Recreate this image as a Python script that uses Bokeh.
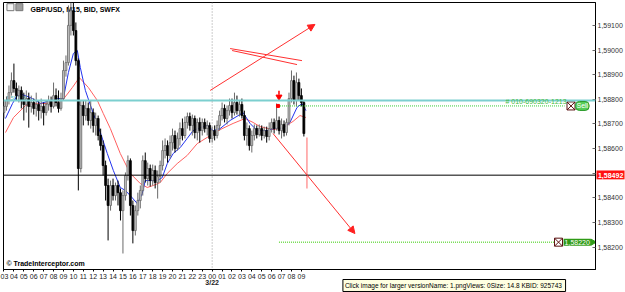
from bokeh.plotting import figure
from bokeh.models import (Span, Label, Arrow, NormalHead, FixedTicker, ColumnDataSource,
                          Range1d, CustomJSTickFormatter)
from bokeh.embed import file_html
from bokeh.resources import INLINE
from bokeh.core.properties import value
import math

# ---------------- data (GBP/USD M15) ----------------
bar_hours = 0.25  # M15 candles, x axis in hours since 03:00 on 3/21

opens = [1.58746, 1.58771, 1.58795, 1.58827, 1.58876, 1.58844, 1.58815, 1.58836, 1.58795, 1.58779,
         1.58803, 1.58771, 1.58787, 1.58763, 1.58779, 1.58754, 1.58771, 1.58746, 1.58779, 1.58795,
         1.58771, 1.58815, 1.58787, 1.58763, 1.58803, 1.58917, 1.58949, 1.59100, 1.59160, 1.59079,
         1.58957, 1.58519, 1.58775, 1.58734, 1.58763, 1.58714, 1.58746, 1.58694, 1.58722, 1.58653,
         1.58612, 1.58531, 1.58450, 1.58369, 1.58450, 1.58409, 1.58450, 1.58421, 1.58348, 1.58409,
         1.58491, 1.58551, 1.58369, 1.58267, 1.58348, 1.58389, 1.58430, 1.58551, 1.58478, 1.58519,
         1.58470, 1.58511, 1.58462, 1.58486, 1.58531, 1.58592, 1.58612, 1.58572, 1.58624, 1.58653,
         1.58600, 1.58641, 1.58681, 1.58653, 1.58706, 1.58730, 1.58694, 1.58722, 1.58665, 1.58706,
         1.58673, 1.58706, 1.58681, 1.58694, 1.58641, 1.58673, 1.58653, 1.58694, 1.58734, 1.58763,
         1.58722, 1.58754, 1.58775, 1.58746, 1.58787, 1.58754, 1.58779, 1.58734, 1.58653, 1.58681,
         1.58612, 1.58653, 1.58681, 1.58657, 1.58681, 1.58653, 1.58673, 1.58649, 1.58681, 1.58706,
         1.58681, 1.58714, 1.58673, 1.58698, 1.58665, 1.58706, 1.58803, 1.58876, 1.58795, 1.58868,
         1.58815, 1.58787]
highs = [1.58795, 1.58811, 1.58856, 1.58909, 1.58945, 1.58868, 1.58856, 1.58852, 1.58827, 1.58836,
         1.58827, 1.58815, 1.58803, 1.58827, 1.58795, 1.58803, 1.58787, 1.58795, 1.58815, 1.58811,
         1.58868, 1.58844, 1.58836, 1.58827, 1.58957, 1.58978, 1.59181, 1.59193, 1.59193, 1.59112,
         1.58966, 1.58795, 1.58795, 1.58795, 1.58787, 1.58795, 1.58763, 1.58746, 1.58734, 1.58681,
         1.58633, 1.58551, 1.58478, 1.58470, 1.58478, 1.58462, 1.58470, 1.58438, 1.58430, 1.58503,
         1.58572, 1.58560, 1.58389, 1.58369, 1.58421, 1.58450, 1.58572, 1.58584, 1.58543, 1.58535,
         1.58535, 1.58531, 1.58511, 1.58551, 1.58633, 1.58641, 1.58633, 1.58653, 1.58681, 1.58673,
         1.58665, 1.58706, 1.58722, 1.58730, 1.58746, 1.58746, 1.58738, 1.58734, 1.58722, 1.58726,
         1.58722, 1.58722, 1.58714, 1.58706, 1.58689, 1.58694, 1.58714, 1.58754, 1.58787, 1.58779,
         1.58775, 1.58803, 1.58803, 1.58827, 1.58815, 1.58795, 1.58803, 1.58754, 1.58706, 1.58694,
         1.58673, 1.58698, 1.58694, 1.58698, 1.58694, 1.58689, 1.58689, 1.58706, 1.58722, 1.58722,
         1.58783, 1.58730, 1.58722, 1.58714, 1.58722, 1.58827, 1.58917, 1.58896, 1.58909, 1.58884,
         1.58844, 1.58795]
lows = [1.58722, 1.58754, 1.58779, 1.58815, 1.58827, 1.58795, 1.58787, 1.58763, 1.58714, 1.58746,
        1.58685, 1.58746, 1.58738, 1.58730, 1.58714, 1.58722, 1.58694, 1.58734, 1.58754, 1.58746,
        1.58763, 1.58771, 1.58746, 1.58754, 1.58795, 1.58892, 1.58937, 1.59059, 1.59059, 1.58937,
        1.58430, 1.58503, 1.58694, 1.58714, 1.58694, 1.58681, 1.58665, 1.58653, 1.58633, 1.58592,
        1.58491, 1.58389, 1.58227, 1.58348, 1.58389, 1.58389, 1.58369, 1.58308, 1.58174, 1.58389,
        1.58470, 1.58328, 1.58215, 1.58247, 1.58328, 1.58357, 1.58409, 1.58462, 1.58450, 1.58446,
        1.58450, 1.58438, 1.58397, 1.58462, 1.58511, 1.58560, 1.58543, 1.58560, 1.58592, 1.58584,
        1.58592, 1.58612, 1.58633, 1.58641, 1.58681, 1.58673, 1.58653, 1.58641, 1.58633, 1.58624,
        1.58653, 1.58665, 1.58653, 1.58624, 1.58624, 1.58633, 1.58641, 1.58673, 1.58714, 1.58706,
        1.58698, 1.58734, 1.58722, 1.58734, 1.58738, 1.58730, 1.58722, 1.58633, 1.58612, 1.58592,
        1.58584, 1.58633, 1.58641, 1.58649, 1.58633, 1.58641, 1.58624, 1.58633, 1.58665, 1.58661,
        1.58673, 1.58657, 1.58641, 1.58649, 1.58653, 1.58694, 1.58787, 1.58779, 1.58771, 1.58795,
        1.58771, 1.58649]
closes = [1.58771, 1.58795, 1.58827, 1.58876, 1.58844, 1.58815, 1.58836, 1.58795, 1.58779, 1.58803,
          1.58771, 1.58787, 1.58763, 1.58779, 1.58754, 1.58771, 1.58746, 1.58779, 1.58795, 1.58771,
          1.58815, 1.58787, 1.58763, 1.58803, 1.58917, 1.58949, 1.59100, 1.59160, 1.59079, 1.58957,
          1.58519, 1.58775, 1.58734, 1.58763, 1.58714, 1.58746, 1.58694, 1.58722, 1.58653, 1.58612,
          1.58531, 1.58450, 1.58369, 1.58450, 1.58409, 1.58450, 1.58421, 1.58348, 1.58409, 1.58491,
          1.58551, 1.58369, 1.58267, 1.58348, 1.58389, 1.58430, 1.58551, 1.58478, 1.58519, 1.58470,
          1.58511, 1.58462, 1.58486, 1.58531, 1.58592, 1.58612, 1.58572, 1.58624, 1.58653, 1.58600,
          1.58641, 1.58681, 1.58653, 1.58706, 1.58730, 1.58694, 1.58722, 1.58665, 1.58706, 1.58673,
          1.58706, 1.58681, 1.58694, 1.58641, 1.58673, 1.58653, 1.58694, 1.58734, 1.58763, 1.58722,
          1.58754, 1.58775, 1.58746, 1.58787, 1.58754, 1.58779, 1.58734, 1.58653, 1.58681, 1.58612,
          1.58653, 1.58681, 1.58657, 1.58681, 1.58653, 1.58673, 1.58649, 1.58681, 1.58706, 1.58681,
          1.58714, 1.58673, 1.58698, 1.58665, 1.58706, 1.58803, 1.58876, 1.58795, 1.58868, 1.58815,
          1.58787, 1.58661]

# moving averages as drawn (hours, price)
fast_ma_t = [0.15, 0.86, 1.46, 2.17, 2.87, 3.68, 4.68, 5.39, 5.99, 6.50, 7.00, 7.40, 7.70, 8.21, 9.01,
             9.72, 10.42, 11.03, 11.73, 12.24, 12.74, 13.44, 13.95, 14.25, 14.75, 15.46, 15.96, 16.47,
             17.07, 17.78, 18.48, 19.08, 19.79, 20.49, 21.10, 21.80, 22.81, 24.12, 24.82, 25.53, 26.54,
             27.54, 28.15, 28.85, 29.56, 30.06, 30.46]
fast_ma = [1.58722, 1.58783, 1.58823, 1.58815, 1.58803, 1.58783, 1.58795, 1.58803, 1.58803, 1.58909,
           1.58986, 1.58998, 1.58929, 1.58836, 1.58742, 1.58665, 1.58580, 1.58511, 1.58442, 1.58430,
           1.58409, 1.58377, 1.58417, 1.58470, 1.58470, 1.58470, 1.58482, 1.58539, 1.58580, 1.58604,
           1.58641, 1.58673, 1.58685, 1.58694, 1.58673, 1.58681, 1.58714, 1.58746, 1.58702, 1.58673,
           1.58673, 1.58685, 1.58681, 1.58706, 1.58767, 1.58783, 1.58754]
slow_ma_t = [0.15, 0.96, 2.17, 3.37, 4.68, 5.89, 6.90, 7.60, 8.51, 9.42, 10.02, 10.73, 11.73, 12.74,
             13.75, 14.45, 15.06, 15.76, 16.47, 17.47, 18.48, 19.49, 20.49, 21.80, 23.11, 24.32, 25.13,
             25.83, 27.14, 28.15, 29.15, 29.86, 30.46]
slow_ma = [1.58665, 1.58726, 1.58775, 1.58783, 1.58783, 1.58795, 1.58848, 1.58888, 1.58848, 1.58795,
           1.58742, 1.58681, 1.58580, 1.58499, 1.58458, 1.58442, 1.58450, 1.58462, 1.58499, 1.58539,
           1.58572, 1.58620, 1.58645, 1.58677, 1.58702, 1.58722, 1.58706, 1.58689, 1.58677, 1.58685,
           1.58710, 1.58734, 1.58726]

hour_labels = ["03", "04", "05", "06", "07", "08", "09", "10", "11", "12", "13", "14", "15", "16",
               "17", "18", "19", "20", "21", "22", "23", "00", "01", "02", "03", "04", "05", "06",
               "07", "08", "09"]
price_ticks = [1.582, 1.583, 1.584, 1.585, 1.586, 1.587, 1.588, 1.589, 1.590, 1.591]

current_price = 1.58492
level_price = 1.58795
sell_price = 1.58773
target_price = 1.58220

# ---------------- figure ----------------
p = figure(width=625, height=292, output_backend="svg", toolbar_location=None,
           x_range=Range1d(-0.05, 59.67), y_range=Range1d(1.58109, 1.59193),
           y_axis_location="right", min_border_left=3, min_border_right=29,
           min_border_top=2, min_border_bottom=23)
p.grid.visible = False
p.outline_line_color = "black"
p.outline_line_width = 1
p.background_fill_color = "white"
p.border_fill_color = "white"

FONT = "Liberation Sans"

p.xaxis.ticker = FixedTicker(ticks=list(range(len(hour_labels))))
p.xaxis.formatter = CustomJSTickFormatter(args=dict(labels=hour_labels),
                                          code="return labels[Math.round(tick)]")
p.xaxis.major_label_text_font = FONT
p.xaxis.major_label_text_font_size = "7px"
p.xaxis.major_label_text_color = "#222222"
p.xaxis.major_label_standoff = 2
p.xaxis.major_tick_out = 2
p.xaxis.major_tick_in = 0
p.xaxis.minor_tick_out = 0
p.xaxis.minor_tick_in = 0
p.xaxis.axis_line_color = "black"

p.yaxis.ticker = FixedTicker(ticks=price_ticks)
p.yaxis.formatter = CustomJSTickFormatter(code="return tick.toFixed(5).replace('.', ',')")
p.yaxis.major_label_text_font = FONT
p.yaxis.major_label_text_font_size = "7px"
p.yaxis.major_label_text_color = "#333333"
p.yaxis.major_label_standoff = 2
p.yaxis.major_tick_in = 3
p.yaxis.major_tick_out = 0
p.yaxis.major_tick_line_color = "#666666"
p.yaxis.minor_tick_out = 0
p.yaxis.minor_tick_in = 0
p.yaxis.axis_line_color = "black"

# background texts (drawn under candles)
p.text(x=[2.67], y=[1.59165], text=["GBP/USD, M15, BID, SWFX"], text_font=value(FONT),
       text_font_size="7px", text_font_style="bold", text_baseline="middle", text_color="black")
p.text(x=[0.15], y=[1.58805], text=["1,58795"], text_font=value(FONT), text_font_size="6px",
       text_baseline="middle", text_color="#55bbbb")
p.scatter(x=[0.65, 1.55], y=[1.59174, 1.59174], marker="square", size=7,
          fill_color=["#f4f4f4", "#a0a0a0"], line_color="#777777")

# moving averages
p.line(slow_ma_t, slow_ma, line_color="#ff6060", line_width=1)
p.line(fast_ma_t, fast_ma, line_color="#2233ee", line_width=1)

# candles
times = [i * bar_hours for i in range(len(opens))]
bull = [c >= o for o, c in zip(opens, closes)]
src = ColumnDataSource(dict(
    t=times, h=highs, l=lows,
    top=[max(o, c) for o, c in zip(opens, closes)],
    bottom=[min(o, c) for o, c in zip(opens, closes)],
    fill=["#c4c4c4" if b else "black" for b in bull],
    line=["#6a6a6a" if b else "black" for b in bull],
))
p.segment(x0="t", y0="l", x1="t", y1="h", line_color="line", line_width=1, source=src)
p.vbar(x="t", width=0.19, top="top", bottom="bottom", fill_color="fill",
       line_color="line", line_width=0.8, source=src)

# horizontal / vertical lines
p.add_layout(Span(location=level_price, dimension="width", line_color="#7ccfcf", line_width=2))
p.add_layout(Span(location=current_price, dimension="width", line_color="black", line_width=1))
p.add_layout(Span(location=21, dimension="height", line_color="#999999", line_width=1,
                  line_dash="1 2"))

# order lines
p.line([27.64, 56.55], [sell_price, sell_price], line_color="#33cc33", line_width=1,
       line_dash="1 1")
p.line([27.74, 55.5], [target_price, target_price], line_color="#33cc00", line_width=1,
       line_dash="1 1")

# hand-drawn red lines
p.segment(x0=[22.81, 23.01], y0=[1.59006, 1.58998], x1=[30.06, 29.56], y1=[1.58957, 1.58941],
          line_color="#ff3030", line_width=1)
p.segment(x0=[30.56], y0=[1.58645], x1=[30.56], y1=[1.58438], line_color="#ff9a9a", line_width=1.5)
p.add_layout(Arrow(end=NormalHead(size=7, fill_color="#ff2020", line_color="#ff2020"),
                   x_start=20.8, y_start=1.58836, x_end=31.37, y_end=1.59104,
                   line_color="#ff3030", line_width=1))
p.add_layout(Arrow(end=NormalHead(size=7, fill_color="#ff2020", line_color="#ff2020"),
                   x_start=27.14, y_start=1.58661, x_end=35.4, y_end=1.58255,
                   line_color="#ff3030", line_width=1))

# signal markers
p.segment(x0=[27.74], y0=[1.58835], x1=[27.74], y1=[1.58818], line_color="red", line_width=1.5)
p.scatter(x=[27.74], y=[1.58810], marker="inverted_triangle", size=6, color="red")
p.scatter(x=[27.64], y=[sell_price], marker="square", size=3, color="red")

# order tags
p.scatter(x=[57.2, 55.94], y=[sell_price, target_price], marker="square_x", size=8,
          fill_color="white", line_color="#5a1010", line_width=1)
p.add_layout(Label(x=56.75, y=sell_price + 0.00004, text="# 010-690320-1213", text_align="right",
                   text_baseline="bottom", text_font=FONT, text_font_size="7px",
                   text_color="#44bb44"))
p.add_layout(Label(x=57.65, y=sell_price, text="Sell", text_baseline="middle", text_font=FONT,
                   text_font_size="7px", text_color="white", background_fill_color="#55cc55",
                   border_line_color="#2a9a2a", padding=1, border_radius=4))
p.add_layout(Label(x=56.45, y=target_price, text="1,58220", text_baseline="middle", text_font=FONT,
                   text_font_size="7px", text_color="white", background_fill_color="#2f9a16",
                   padding=1))
p.scatter(x=[59.4], y=[target_price], marker="triangle", angle=-math.pi / 2, size=6,
          color="#2f9a16")

p.add_layout(Label(x=0.25, y=1.58133, text="\u00a9 TradeInterceptor.com", text_baseline="middle",
                   text_font=FONT, text_font_size="7px", text_font_style="bold",
                   text_color="black"))

# out-of-frame items drawn as overlay-level glyphs
p.quad(left=[59.77], right=[62.6], top=[1.58511], bottom=[1.58475], fill_color="#ff1010",
       line_color=None, level="overlay")
p.text(x=[59.92], y=[current_price], text=["1,58492"], text_font=value(FONT), text_font_size="7px",
       text_font_style="bold", text_color="white", text_baseline="middle", level="overlay")
p.text(x=[21], y=[1.58056], text=["3/22"], text_font=value(FONT), text_font_size="7px",
       text_font_style="bold", text_color="#222222", text_align="center", text_baseline="middle",
       level="overlay")
p.quad(left=[34.19], right=[56.65], top=[1.580684], bottom=[1.580197], fill_color="#ffffe1",
       line_color="black", line_width=1, level="overlay")
p.text(x=[34.39], y=[1.58044],
       text=["Click image for larger versionName: 1.pngViews: 0Size: 14.8 KBID: 925743"],
       text_font=value(FONT), text_font_size="6.5px", text_color="black", text_baseline="middle",
       level="overlay")

open("out.html", "w").write(file_html(p, INLINE))
